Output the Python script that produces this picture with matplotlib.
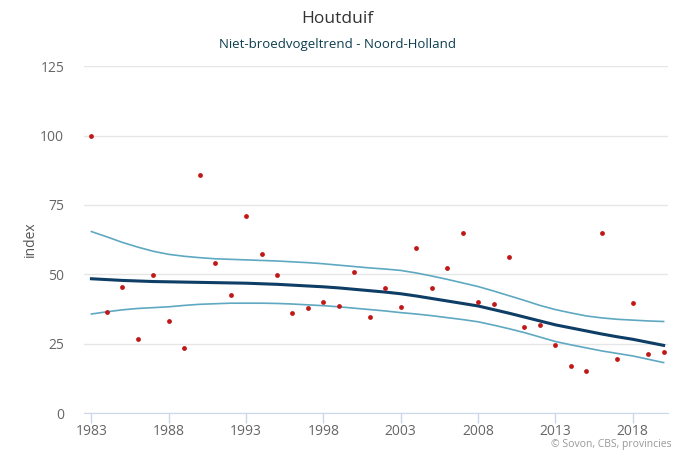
import numpy as np
import matplotlib
matplotlib.use('Agg')
import matplotlib.pyplot as plt

plt.rcParams['font.family'] = ['Open Sans', 'DejaVu Sans']

# years 1983 - 2020
years = list(range(1983, 2021))

# yearly index values (dots)
index_values = [100.0, 36.4, 45.3, 26.8, 49.8, 33.3, 23.3, 85.9, 54.0, 42.6,
                71.0, 57.2, 49.6, 35.9, 38.0, 40.2, 38.5, 50.9, 34.5, 45.1,
                38.2, 59.5, 45.1, 52.1, 64.9, 40.2, 39.3, 56.2, 31.2, 31.7,
                24.7, 17.0, 15.3, 64.9, 19.4, 39.8, 21.4, 22.1]

# smoothed trend and its confidence band
trend = [48.4, 48.1, 47.8, 47.6, 47.4, 47.3, 47.2, 47.1, 47.0, 46.9,
         46.8, 46.6, 46.4, 46.1, 45.8, 45.5, 45.1, 44.6, 44.1, 43.6,
         43.0, 42.2, 41.3, 40.4, 39.5, 38.6, 37.3, 36.0, 34.6, 33.2,
         31.8, 30.7, 29.6, 28.5, 27.5, 26.6, 25.5, 24.4]

upper = [65.4, 63.5, 61.5, 59.8, 58.3, 57.2, 56.5, 56.0, 55.6, 55.4,
         55.2, 55.0, 54.8, 54.5, 54.2, 53.8, 53.3, 52.8, 52.3, 51.9,
         51.4, 50.5, 49.4, 48.2, 46.9, 45.6, 44.0, 42.3, 40.6, 38.8,
         37.3, 36.1, 35.0, 34.3, 33.8, 33.5, 33.2, 33.0]

lower = [35.7, 36.5, 37.2, 37.7, 38.0, 38.3, 38.8, 39.2, 39.4, 39.6,
         39.6, 39.6, 39.5, 39.3, 39.0, 38.7, 38.3, 37.8, 37.3, 36.8,
         36.2, 35.7, 35.1, 34.4, 33.7, 32.9, 31.7, 30.4, 29.0, 27.4,
         25.8, 24.6, 23.5, 22.4, 21.5, 20.6, 19.4, 18.2]

xticks = [1983, 1988, 1993, 1998, 2003, 2008, 2013, 2018]
yticks = [0, 25, 50, 75, 100, 125]

fig = plt.figure(figsize=(6.75, 4.5), dpi=100)
ax = fig.add_axes([0.124, 0.082, 0.866, 0.771])

ax.plot(years, upper, color='#5fa8c2', lw=1.2, zorder=2)
ax.plot(years, lower, color='#5fa8c2', lw=1.2, zorder=2)
ax.plot(years, trend, color='#0e3d66', lw=2.2, zorder=3)
ax.scatter(years, index_values, s=12, color='#c01818', zorder=4, linewidths=0)

ax.set_xlim(1982.5, 2020.3)
ax.set_ylim(0, 125)
ax.set_xticks(xticks)
ax.set_yticks(yticks)
ax.grid(axis='y', color='#e6e6e6', lw=1)
ax.set_axisbelow(True)

for s in ['top', 'right', 'left']:
    ax.spines[s].set_visible(False)
ax.spines['bottom'].set_color('#ccd6eb')
ax.tick_params(axis='x', colors='#ccd6eb', length=7, width=1, labelcolor='#666666', labelsize=10, pad=1)
ax.tick_params(axis='y', length=0, labelcolor='#666666', labelsize=10, pad=14)

ax.set_ylabel('index', color='#555555', fontsize=10, labelpad=2)

fig.text(0.5, 0.958, 'Houtduif', ha='center', va='center', fontsize=12.5, color='#333333')
fig.text(0.5, 0.902, 'Niet-broedvogeltrend - Noord-Holland', ha='center', va='center',
         fontsize=9.5, color='#0d3d4f')
fig.text(0.995, 0.001, '© Sovon, CBS, provincies', ha='right', va='bottom', fontsize=7.5, color='#999999')

plt.savefig('out.png', dpi=100)
